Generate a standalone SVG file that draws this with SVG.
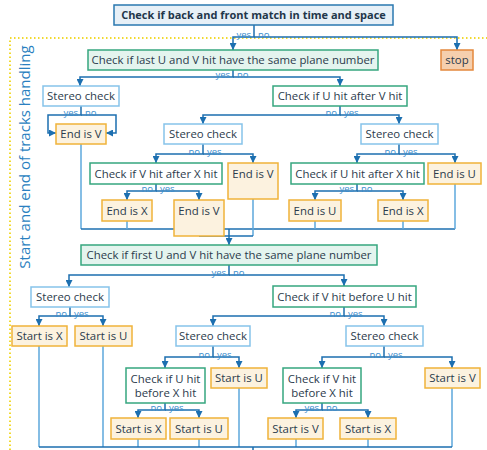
<svg xmlns="http://www.w3.org/2000/svg" width="487" height="450" viewBox="0 0 487 450">
<style>
text{font-family:"Open Sans","Noto Sans","Liberation Sans",sans-serif;}
.t{font-size:11.4px;fill:#2b3b4c;text-anchor:middle;}
.tb{font-size:11px;font-weight:bold;fill:#22364a;text-anchor:middle;}
.lbl{font-size:9.5px;fill:#3a8ccc;}
.e{fill:none;stroke:#1c6fb0;stroke-width:1.5;}
.m{fill:none;stroke:#5ea8dc;stroke-width:1.5;}
.top{fill:#e7f0f7;stroke:#2a78b0;stroke-width:1.5;}
.gf{fill:#e4f4ee;stroke:#36a67f;stroke-width:1.5;}
.g{fill:#ffffff;stroke:#36a67f;stroke-width:1.5;}
.s{fill:#ffffff;stroke:#86c3ea;stroke-width:1.5;}
.o{fill:#fcf2df;stroke:#f0b33a;stroke-width:1.5;}
.stop{fill:#f5cfae;stroke:#e4883c;stroke-width:1.5;}
</style>
<defs>
<marker id="a" viewBox="0 0 10 10" refX="10" refY="5" markerWidth="7" markerHeight="7" markerUnits="userSpaceOnUse" orient="auto"><path d="M0,0 L10,5 L0,10 z" fill="#1c6fb0"/></marker>
</defs>
<rect x="10" y="38" width="520" height="440" fill="none" stroke="#f2d92e" stroke-width="2" stroke-dasharray="1.5 2.5"/>
<text transform="translate(30,157) rotate(-90)" style="font-size:15px;fill:#2a7fc0;text-anchor:middle">Start and end of tracks handling</text>
<g id="connectors">
<path class="e" d="M254,25 V37 H233 V50" marker-end="url(#a)"/>
<path class="e" d="M254,37 H457 V50" marker-end="url(#a)"/>
<path class="e" d="M233,70 V77 H80 V86" marker-end="url(#a)"/>
<path class="e" d="M233,77 H340 V86" marker-end="url(#a)"/>
<path class="e" d="M81,106 V115 H48 V133 H56" marker-end="url(#a)"/>
<path class="e" d="M81,115 H116 V133 H106" marker-end="url(#a)"/>
<path class="e" d="M340,106 V115 H203 V124" marker-end="url(#a)"/>
<path class="e" d="M340,115 H399 V124" marker-end="url(#a)"/>
<path class="e" d="M203,144 V154 H156 V163" marker-end="url(#a)"/>
<path class="e" d="M203,154 H253 V163" marker-end="url(#a)"/>
<path class="e" d="M399,144 V154 H357 V163" marker-end="url(#a)"/>
<path class="e" d="M399,154 H455 V163" marker-end="url(#a)"/>
<path class="e" d="M156,184 V191 H127 V200" marker-end="url(#a)"/>
<path class="e" d="M156,191 H199 V200" marker-end="url(#a)"/>
<path class="e" d="M357,184 V191 H315 V200" marker-end="url(#a)"/>
<path class="e" d="M357,191 H403 V200" marker-end="url(#a)"/>
<path class="m" d="M81,144 V229"/>
<path class="e" d="M81,229 H455"/>
<path class="m" d="M455,184 V229"/>
<path class="m" d="M127,221 V229 M315,221 V229 M403,221 V229 M253,199 V236"/>
<path class="e" d="M199,236 H253"/>
<path class="e" d="M229,229 V245" marker-end="url(#a)"/>
<path class="e" d="M229,265 V275 H69 V287" marker-end="url(#a)"/>
<path class="e" d="M229,275 H344 V286" marker-end="url(#a)"/>
<path class="e" d="M70,307 V316 H39 V326" marker-end="url(#a)"/>
<path class="e" d="M70,316 H103 V326" marker-end="url(#a)"/>
<path class="e" d="M344,307 V316 H213 V326" marker-end="url(#a)"/>
<path class="e" d="M344,316 H384 V326" marker-end="url(#a)"/>
<path class="e" d="M213,346 V357 H165 V368" marker-end="url(#a)"/>
<path class="e" d="M213,357 H239 V368" marker-end="url(#a)"/>
<path class="e" d="M384,346 V357 H322 V368" marker-end="url(#a)"/>
<path class="e" d="M384,357 H452 V368" marker-end="url(#a)"/>
<path class="e" d="M165,403 V410 H138 V418" marker-end="url(#a)"/>
<path class="e" d="M165,410 H199 V418" marker-end="url(#a)"/>
<path class="e" d="M322,403 V410 H296 V418" marker-end="url(#a)"/>
<path class="e" d="M322,410 H368 V418" marker-end="url(#a)"/>
<path class="m" d="M39,346 V447 M103,346 V447 M138,439 V447 M199,439 V447 M239,388 V447 M296,439 V447 M368,439 V447 M452,388 V447"/>
<path class="e" d="M39,447 H452 M253,447 V455"/>
<text class="lbl" x="251" y="38" text-anchor="end">yes</text><text class="lbl" x="258" y="38">no</text>
<text class="lbl" x="230" y="78" text-anchor="end">yes</text><text class="lbl" x="237" y="78">no</text>
<text class="lbl" x="78" y="116" text-anchor="end">yes</text><text class="lbl" x="85" y="116">no</text>
<text class="lbl" x="337" y="116" text-anchor="end">no</text><text class="lbl" x="344" y="116">yes</text>
<text class="lbl" x="200" y="155" text-anchor="end">no</text><text class="lbl" x="207" y="155">yes</text>
<text class="lbl" x="396" y="155" text-anchor="end">no</text><text class="lbl" x="403" y="155">yes</text>
<text class="lbl" x="153" y="192" text-anchor="end">no</text><text class="lbl" x="160" y="192">yes</text>
<text class="lbl" x="354" y="192" text-anchor="end">yes</text><text class="lbl" x="361" y="192">no</text>
<text class="lbl" x="226" y="276" text-anchor="end">yes</text><text class="lbl" x="233" y="276">no</text>
<text class="lbl" x="67" y="317" text-anchor="end">no</text><text class="lbl" x="74" y="317">yes</text>
<text class="lbl" x="341" y="317" text-anchor="end">no</text><text class="lbl" x="348" y="317">yes</text>
<text class="lbl" x="210" y="358" text-anchor="end">no</text><text class="lbl" x="217" y="358">yes</text>
<text class="lbl" x="381" y="358" text-anchor="end">no</text><text class="lbl" x="388" y="358">yes</text>
<text class="lbl" x="162" y="411" text-anchor="end">no</text><text class="lbl" x="169" y="411">yes</text>
<text class="lbl" x="319" y="411" text-anchor="end">yes</text><text class="lbl" x="326" y="411">no</text>
</g>
<g id="n_top"><rect class="top" x="114" y="5" width="279" height="20"/><text class="tb" x="253.5" y="19">Check if back and front match in time and space</text></g>
<g id="n_stop"><rect class="stop" x="441" y="50" width="32" height="20"/><text class="t" x="457" y="64">stop</text></g>
<g id="n_last"><rect class="gf" x="88" y="50" width="290" height="20"/><text class="t" x="233" y="64">Check if last U and V hit have the same plane number</text></g>
<g id="n_st1"><rect class="s" x="43" y="86" width="76" height="20"/><text class="t" x="81" y="100">Stereo check</text></g>
<g id="n_uv"><rect class="g" x="273" y="86" width="134" height="20"/><text class="t" x="340" y="100">Check if U hit after V hit</text></g>
<g id="n_endV1"><rect class="o" x="56" y="124" width="50" height="20"/><text class="t" x="81" y="138">End is V</text></g>
<g id="n_st2"><rect class="s" x="164" y="124" width="78" height="20"/><text class="t" x="203" y="138">Stereo check</text></g>
<g id="n_st3"><rect class="s" x="361" y="124" width="77" height="20"/><text class="t" x="399.5" y="138">Stereo check</text></g>
<g id="n_vx"><rect class="g" x="90" y="163" width="132" height="21"/><text class="t" x="156" y="177.5">Check if V hit after X hit</text></g>
<g id="n_endV2"><rect class="o" x="228" y="163" width="50" height="36"/><text class="t" x="253" y="178">End is V</text></g>
<g id="n_ux"><rect class="g" x="291" y="163" width="133" height="21"/><text class="t" x="357.5" y="177.5">Check if U hit after X hit</text></g>
<g id="n_endU1"><rect class="o" x="428" y="163" width="53" height="21"/><text class="t" x="454.5" y="177.5">End is U</text></g>
<g id="n_endX1"><rect class="o" x="102" y="200" width="50" height="21"/><text class="t" x="127" y="214.5">End is X</text></g>
<g id="n_endV3"><rect class="o" x="174" y="200" width="50" height="36"/><text class="t" x="199" y="215">End is V</text></g>
<g id="n_endU2"><rect class="o" x="289" y="200" width="52" height="21"/><text class="t" x="315" y="214.5">End is U</text></g>
<g id="n_endX2"><rect class="o" x="378" y="200" width="50" height="21"/><text class="t" x="403" y="214.5">End is X</text></g>
<g id="n_first"><rect class="gf" x="81" y="245" width="296" height="20"/><text class="t" x="229" y="259">Check if first U and V hit have the same plane number</text></g>
<g id="n_st4"><rect class="s" x="31" y="287" width="78" height="20"/><text class="t" x="70" y="301">Stereo check</text></g>
<g id="n_vu"><rect class="g" x="273" y="286" width="143" height="21"/><text class="t" x="344.5" y="300.5">Check if V hit before U hit</text></g>
<g id="n_sX1"><rect class="o" x="12" y="326" width="55" height="20"/><text class="t" x="39.5" y="340">Start is X</text></g>
<g id="n_sU1"><rect class="o" x="75" y="326" width="57" height="20"/><text class="t" x="103.5" y="340">Start is U</text></g>
<g id="n_st5"><rect class="s" x="176" y="326" width="74" height="20"/><text class="t" x="213" y="340">Stereo check</text></g>
<g id="n_st6"><rect class="s" x="346" y="326" width="77" height="20"/><text class="t" x="384.5" y="340">Stereo check</text></g>
<g id="n_ubx"><rect class="g" x="126" y="368" width="79" height="35"/><text class="t" x="165.5" y="383">Check if U hit</text><text class="t" x="165.5" y="397">before X hit</text></g>
<g id="n_sU2"><rect class="o" x="211" y="368" width="56" height="20"/><text class="t" x="239" y="382">Start is U</text></g>
<g id="n_vbx"><rect class="g" x="283" y="368" width="78" height="35"/><text class="t" x="322" y="383">Check if V hit</text><text class="t" x="322" y="397">before X hit</text></g>
<g id="n_sV1"><rect class="o" x="425" y="368" width="55" height="20"/><text class="t" x="452.5" y="382">Start is V</text></g>
<g id="n_sX2"><rect class="o" x="111" y="418" width="55" height="21"/><text class="t" x="138.5" y="432.5">Start is X</text></g>
<g id="n_sU3"><rect class="o" x="170" y="418" width="58" height="21"/><text class="t" x="199" y="432.5">Start is U</text></g>
<g id="n_sV2"><rect class="o" x="268" y="418" width="55" height="21"/><text class="t" x="295.5" y="432.5">Start is V</text></g>
<g id="n_sX3"><rect class="o" x="340" y="418" width="56" height="21"/><text class="t" x="368" y="432.5">Start is X</text></g>
</svg>
